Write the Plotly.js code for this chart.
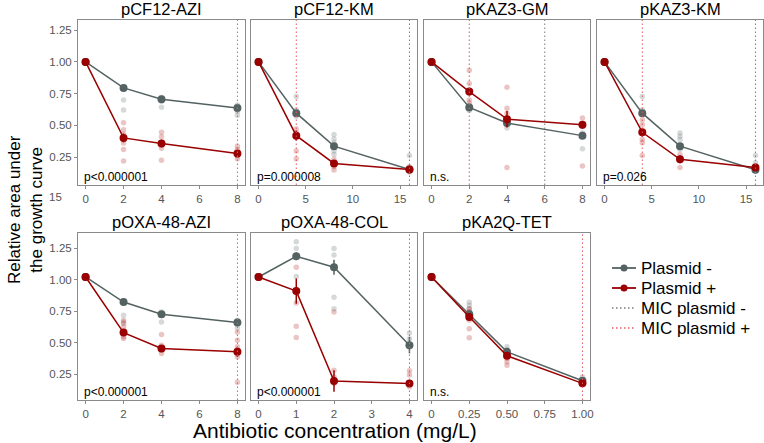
<!DOCTYPE html>
<html><head><meta charset="utf-8">
<script src="https://cdn.plot.ly/plotly-3.0.1.min.js"></script>
<style>html,body{margin:0;padding:0;background:#fff}#chart{width:764px;height:443px}</style>
</head><body><div id="chart"></div>
<script>
const panelTitles = ["pCF12-AZI","pCF12-KM","pKAZ3-GM","pKAZ3-KM","pOXA-48-AZI","pOXA-48-COL","pKA2Q-TET"];
const pLabels = ["p<0.000001","p=0.000008","n.s.","p=0.026","p<0.000001","p<0.000001","n.s."];
const concentrations = [[0,2,4,8],[0,4,8,16],[0,2,4,8],[0,4,8,16],[0,2,4,8],[0,1,2,4],[0,0.25,0.5,1]];
const meanMinus = [[1.0,0.795,0.706,0.636],[1.0,0.596,0.336,0.152],[1.0,0.641,0.518,0.419],[1.0,0.596,0.336,0.150],[1.02,0.821,0.724,0.658],[1.02,1.184,1.097,0.479],[1.02,0.724,0.426,0.197]];
const errMinus = [[0,0.02,0.02,0.02],[0,0.025,0.02,0.01],[0,0.015,0.02,0.02],[0,0.025,0.02,0.01],[0,0.02,0.02,0.02],[0,0.03,0.06,0.065],[0,0.02,0.015,0.01]];
const meanPlus = [[1.0,0.401,0.357,0.279],[1.0,0.419,0.20,0.152],[1.0,0.766,0.549,0.505],[1.0,0.445,0.232,0.168],[1.02,0.579,0.453,0.426],[1.02,0.908,0.195,0.174],[1.02,0.703,0.395,0.176]];
const errPlus = [[0,0.035,0.03,0.02],[0,0.04,0.02,0.01],[0,0.03,0.065,0.03],[0,0.035,0.03,0.015],[0,0.025,0.015,0.04],[0,0.1,0.085,0.015],[0,0.03,0.02,0.015]];
// replicates at each non-zero concentration (index 1..3)
const repsMinus = [
  [[0.80,0.79,0.70,0.62],[0.72,0.706,0.69,0.643],[0.66,0.635,0.61,0.58]],
  [[0.727,0.622,0.596,0.57],[0.427,0.393,0.362,0.336,0.297,0.27],[0.263,0.154]],
  [[0.654,0.635,0.617],[0.53,0.505,0.48],[0.44,0.414,0.315]],
  [[0.727,0.622,0.596],[0.44,0.414,0.388,0.336,0.31],[0.263,0.206,0.154,0.14]],
  [[0.82,0.716,0.663],[0.742,0.716,0.663],[0.676,0.65,0.618]],
  [[1.30,1.247,1.19,1.024],[1.247,1.195,0.86,0.768],[0.576,0.53,0.479]],
  [[0.82,0.795,0.768,0.742],[0.466,0.44,0.413],[0.229,0.203]]
];
const repsPlus = [
  [[0.52,0.466,0.43,0.36,0.31,0.22],[0.445,0.41,0.357,0.32,0.225],[0.336,0.31,0.28,0.26,0.237]],
  [[0.471,0.44,0.419,0.297,0.237],[0.232,0.20,0.174,0.148],[0.174,0.154,0.133]],
  [[0.935,0.83,0.753,0.70,0.674],[0.80,0.635,0.596,0.167],[0.557,0.49,0.427,0.18]],
  [[0.544,0.505,0.388,0.362,0.263],[0.27,0.232,0.167],[0.18,0.154]],
  [[0.676,0.65,0.624,0.545,0.532],[0.563,0.479,0.44,0.413],[0.584,0.518,0.466,0.387,0.184]],
  [[1.176,1.097,0.813,0.629,0.54],[0.742,0.28,0.229,0.176],[0.276,0.242,0.176,0.15]],
  [[0.768,0.742,0.703,0.676,0.61,0.537],[0.413,0.374,0.347,0.32],[0.203,0.176]]
];
const micMinus = [null,16,6,16,null,null,null];
const micPlus = [8,4,2,4,8,4,1];
const xTickVals = [[0,2,4,6,8],[0,5,10,15],[0,2,4,6,8],[0,5,10,15],[0,2,4,6,8],[0,1,2,3,4],[0,0.25,0.5,0.75,1]];
const xTickText = [["0","2","4","6","8"],["0","5","10","15"],["0","2","4","6","8"],["0","5","10","15"],["0","2","4","6","8"],["0","1","2","3","4"],["0","0.25","0.50","0.75","1.00"]];
const yTickVals = [0.25,0.5,0.75,1.0,1.25];
const yTickText = ["0.25","0.50","0.75","1.00","1.25"];
const legendNames = ["Plasmid -","Plasmid +","MIC plasmid -","MIC plasmid +"];

const W = 764, H = 443;
const GRAY = "#546262", RED = "#9a0000";
const GRAY_A = "rgba(90,105,105,0.25)", RED_A = "rgba(175,20,20,0.25)";
const MIC_GRAY = "#7a7a7a", MIC_RED = "#dd5c5c";
const DOT = "1.5px,2.5px";
const colPx = [[78,245],[251,417],[424,590],[597,763]];
const rowPx = [[20,185],[233,400]];
const yRanges = [[0.03,1.33],[0.044,1.369]];
const FONT = "Liberation Sans, Arial, Helvetica, sans-serif";

const traces = [], shapes = [], annotations = [];
const layout = {
  width: W, height: H, margin: {l:0,r:0,t:0,b:0},
  paper_bgcolor: "#fff", plot_bgcolor: "#fff",
  font: {family: FONT, color: "#000"},
  showlegend: false
};

for (let p = 0; p < 7; p++) {
  const row = p < 4 ? 0 : 1, col = p < 4 ? p : p - 4;
  const ax = p === 0 ? "" : String(p + 1);
  const xa = "x" + ax, ya = "y" + ax;
  const xs = concentrations[p];
  const span = xs[xs.length-1] - xs[0];
  const [x0, x1] = colPx[col], [y0, y1] = rowPx[row];
  layout["xaxis" + ax] = {
    domain: [x0 / W, x1 / W], anchor: ya, range: [xs[0] - 0.05*span, xs[xs.length-1] + 0.05*span],
    tickmode: "array", tickvals: xTickVals[p], ticktext: xTickText[p],
    showgrid: false, zeroline: false, showline: true, mirror: true, linecolor: "#8a8a8a", linewidth: 1,
    ticks: "outside", ticklen: 3, tickcolor: "#8a8a8a", tickfont: {size: 11.5, color: "#555", family: FONT}
  };
  layout["yaxis" + ax] = {
    domain: [1 - y1 / H, 1 - y0 / H], anchor: xa, range: yRanges[row],
    tickmode: "array", tickvals: yTickVals, ticktext: yTickText,
    showgrid: false, zeroline: false, showline: true, mirror: true, linecolor: "#8a8a8a", linewidth: 1,
    ticks: col === 0 ? "outside" : "", ticklen: 3, tickcolor: "#8a8a8a",
    showticklabels: col === 0, tickfont: {size: 11.5, color: "#555", family: FONT}
  };
  if (micMinus[p] !== null) shapes.push({type:"line", xref: xa, yref: ya + " domain", x0: micMinus[p], x1: micMinus[p], y0: 0, y1: 1, line: {color: MIC_GRAY, width: 1, dash: DOT}});
  if (micPlus[p] !== null) shapes.push({type:"line", xref: xa, yref: ya + " domain", x0: micPlus[p], x1: micPlus[p], y0: 0, y1: 1, line: {color: MIC_RED, width: 1, dash: DOT}});
  const rxm = [], rym = [], rxp = [], ryp = [];
  for (let i = 1; i < xs.length; i++) {
    repsMinus[p][i-1].forEach(v => { rxm.push(xs[i]); rym.push(v); });
    repsPlus[p][i-1].forEach(v => { rxp.push(xs[i]); ryp.push(v); });
  }
  traces.push({x: rxm, y: rym, xaxis: xa, yaxis: ya, type: "scatter", mode: "markers", marker: {color: GRAY_A, size: 5.5}, hoverinfo: "skip"});
  traces.push({x: rxp, y: ryp, xaxis: xa, yaxis: ya, type: "scatter", mode: "markers", marker: {color: RED_A, size: 5.5}, hoverinfo: "skip"});
  traces.push({x: xs, y: meanMinus[p], xaxis: xa, yaxis: ya, type: "scatter", mode: "lines+markers",
    line: {color: GRAY, width: 1.5}, marker: {color: GRAY, size: 8},
    error_y: {type: "data", array: errMinus[p], color: GRAY, thickness: 1.5, width: 0}});
  traces.push({x: xs, y: meanPlus[p], xaxis: xa, yaxis: ya, type: "scatter", mode: "lines+markers",
    line: {color: RED, width: 1.5}, marker: {color: RED, size: 8},
    error_y: {type: "data", array: errPlus[p], color: RED, thickness: 1.5, width: 0}});
  annotations.push({text: panelTitles[p], xref: "paper", yref: "paper", x: (x0 + x1) / 2 / W, y: 1 - y0 / H, yanchor: "bottom", xanchor: "center", yshift: 0, showarrow: false, font: {size: 16.5, color: "#000", family: FONT}});
  annotations.push({text: pLabels[p], xref: "paper", yref: "paper", x: (x0 + 4) / W, y: 1 - (y1 - 8) / H, xanchor: "left", yanchor: "middle", showarrow: false, font: {size: 12, color: "#000", family: FONT}});
}

// manual legend
const legColors = [GRAY, RED, MIC_GRAY, MIC_RED];
const legY = [268, 288, 308, 328];
for (let i = 0; i < 4; i++) {
  const yy = 1 - legY[i] / H;
  shapes.push({type: "line", xref: "paper", yref: "paper", x0: 612 / W, x1: 636 / W, y0: yy, y1: yy,
    line: {color: legColors[i], width: i < 2 ? 1.8 : 1.5, dash: i < 2 ? "solid" : DOT}});
  if (i < 2) shapes.push({type: "circle", xref: "paper", yref: "paper", x0: 620.5 / W, x1: 627.5 / W, y0: 1 - (legY[i] + 3.5) / H, y1: 1 - (legY[i] - 3.5) / H,
    fillcolor: legColors[i], line: {color: legColors[i], width: 0}});
  annotations.push({text: legendNames[i], xref: "paper", yref: "paper", x: 639 / W, y: yy, xanchor: "left", yanchor: "middle", showarrow: false, font: {size: 17, color: "#000", family: FONT}});
}

annotations.push({text: "Relative area under<br>the growth curve", xref: "paper", yref: "paper", x: 25 / W, y: 1 - 210 / H, textangle: -90, showarrow: false, xanchor: "center", yanchor: "middle", font: {size: 17, color: "#000", family: FONT}});
annotations.push({text: "Antibiotic concentration (mg/L)", xref: "paper", yref: "paper", x: 335 / W, y: 1 - 430 / H, showarrow: false, xanchor: "center", yanchor: "middle", borderpad: 0, font: {size: 21, color: "#000", family: FONT}});
annotations.push({text: "15", xref: "paper", yref: "paper", x: 56 / W, y: 1 - 197 / H, showarrow: false, xanchor: "center", yanchor: "middle", font: {size: 11.5, color: "#555", family: FONT}});
layout.shapes = shapes;
layout.annotations = annotations;
Plotly.newPlot("chart", traces, layout, {displayModeBar: false, staticPlot: true});
</script></body></html>
